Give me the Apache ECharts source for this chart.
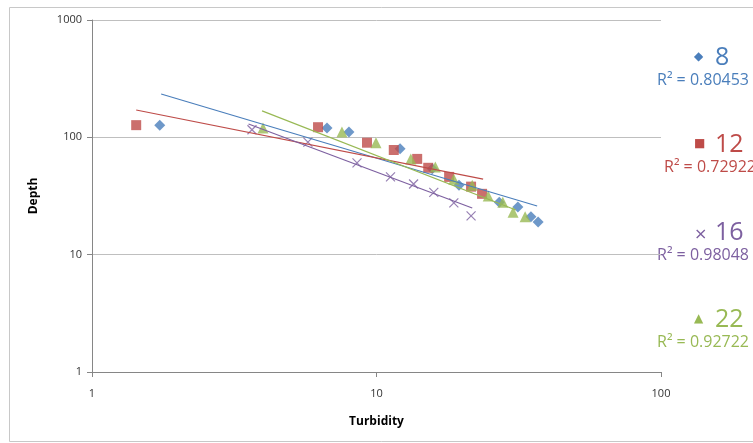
<!DOCTYPE html>
<html>
<head>
<meta charset="utf-8">
<script src="https://cdn.jsdelivr.net/npm/echarts@6/dist/echarts.min.js"></script>
<style>
  html, body { margin: 0; padding: 0; background: #fff; }
  #chart { width: 753px; height: 443px; }
</style>
</head>
<body>
<div id="chart"></div>
<script>
// data: [turbidity, depth]
const pts8 = [[1.73, 127], [6.7, 120], [8.0, 111], [12.1, 80], [15.7, 54], [19.5, 39], [27.0, 28], [31.4, 25.5], [34.9, 21], [37.0, 19]]
const pts12 = [[1.43, 127], [6.23, 122], [9.26, 90], [11.5, 78], [13.9, 65.5], [15.2, 55], [18.0, 46], [21.5, 38], [23.5, 33]]
const pts16 = [[3.65, 116], [5.74, 91], [8.54, 60.5], [11.2, 46], [13.5, 40], [15.9, 34], [18.7, 27.6], [21.5, 21.4]]
const pts22 = [[3.99, 120], [7.56, 111], [9.96, 90], [13.2, 65.5], [16.1, 56], [18.7, 44], [21.7, 39], [24.7, 31.7], [27.8, 28], [30.2, 23], [33.3, 21]]

// trendline end points (power fits as drawn)
const trend8 = [[1.75, 234], [36.7, 26]]
const trend12 = [[1.43, 171], [23.7, 44]]
const trend16 = [[3.55, 130], [21.7, 25]]
const trend22 = [[3.96, 168], [30.9, 24]]

const names = ['8', '12', '16', '22']
const r2 = ['0.80453', '0.72922', '0.98048', '0.92722']
const colors = ['#4a7ebb', '#be4b48', '#7d60a0', '#98b954']

const chart = echarts.init(document.getElementById('chart'))

const crossPath = 'path://M0,0L10,10M10,0L0,10'

function scatter(data, color, symbol, size) {
  const isCross = symbol === crossPath
  return {
    type: 'scatter',
    data: data,
    symbol: symbol,
    symbolSize: size,
    itemStyle: isCross
      ? { color: 'rgba(0,0,0,0)', borderColor: color, borderWidth: 1.2 }
      : { color: color },
    z: 3,
    silent: true,
  }
}

function trend(data, color) {
  return {
    type: 'line',
    data: data,
    showSymbol: false,
    lineStyle: { color: color, width: 1.2 },
    z: 4,
    silent: true,
  }
}

const legendTop = [60, 147, 235, 322]
const legendGraphic = []
const markers = ['◆', '■', '×', '▲']
const markerSize = [12, 12, 16, 12]
names.forEach((n, i) => {
  legendGraphic.push({
    type: 'text', left: 694, top: legendTop[i] - (i === 2 ? 8 : 9),
    style: { text: markers[i], fill: colors[i], font: markerSize[i] + 'px "DejaVu Sans"' }
  })
  legendGraphic.push({
    type: 'text', left: 715, top: legendTop[i] - 15,
    style: { text: n, fill: colors[i], font: '25px "Open Sans"' }
  })
  legendGraphic.push({
    type: 'text', right: i === 1 ? -3 : 4, top: legendTop[i] + 12,
    style: { text: 'R² = ' + r2[i], fill: colors[i], font: '16px "Open Sans"' }
  })
})

chart.setOption({
  animation: false,
  backgroundColor: '#fff',
  grid: { left: 92, right: 92, top: 20, bottom: 71 },
  xAxis: {
    type: 'log',
    logBase: 10,
    min: 1,
    max: 100,
    name: 'Turbidity',
    nameLocation: 'middle',
    nameGap: 44,
    nameTextStyle: { fontWeight: 'bold', fontSize: 12, color: '#000', fontFamily: 'Open Sans' },
    axisLine: { lineStyle: { color: '#868686' } },
    axisTick: { show: true, length: 5, lineStyle: { color: '#868686' } },
    axisLabel: { color: '#333', fontSize: 11, margin: 16, fontFamily: 'Open Sans', formatter: v => String(v) },
    splitLine: { show: false },
    minorTick: { show: false },
  },
  yAxis: {
    type: 'log',
    logBase: 10,
    min: 1,
    max: 1000,
    name: 'Depth',
    nameLocation: 'middle',
    nameGap: 52,
    nameTextStyle: { fontWeight: 'bold', fontSize: 12, color: '#000', fontFamily: 'Open Sans' },
    axisLine: { show: true, lineStyle: { color: '#868686' } },
    axisTick: { show: true, length: 5, lineStyle: { color: '#868686' } },
    axisLabel: { color: '#333', fontSize: 11, margin: 10, fontFamily: 'Open Sans', formatter: v => String(v) },
    splitLine: { show: true, lineStyle: { color: '#bfbfbf', width: 1 } },
  },
  graphic: [
    {
      type: 'rect', left: 7, top: 5,
      shape: { width: 760, height: 434 },
      style: { fill: 'none', stroke: '#c8c8c8', lineWidth: 1 },
      silent: true,
    },
  ].concat(legendGraphic),
  series: [
    trend(trend8, colors[0]),
    trend(trend12, colors[1]),
    trend(trend16, colors[2]),
    trend(trend22, colors[3]),
    scatter(pts8, colors[0], 'diamond', 11),
    scatter(pts12, colors[1], 'rect', 10),
    scatter(pts16, colors[2], crossPath, 9),
    scatter(pts22, colors[3], 'triangle', 11),
  ],
})
</script>
</body>
</html>
